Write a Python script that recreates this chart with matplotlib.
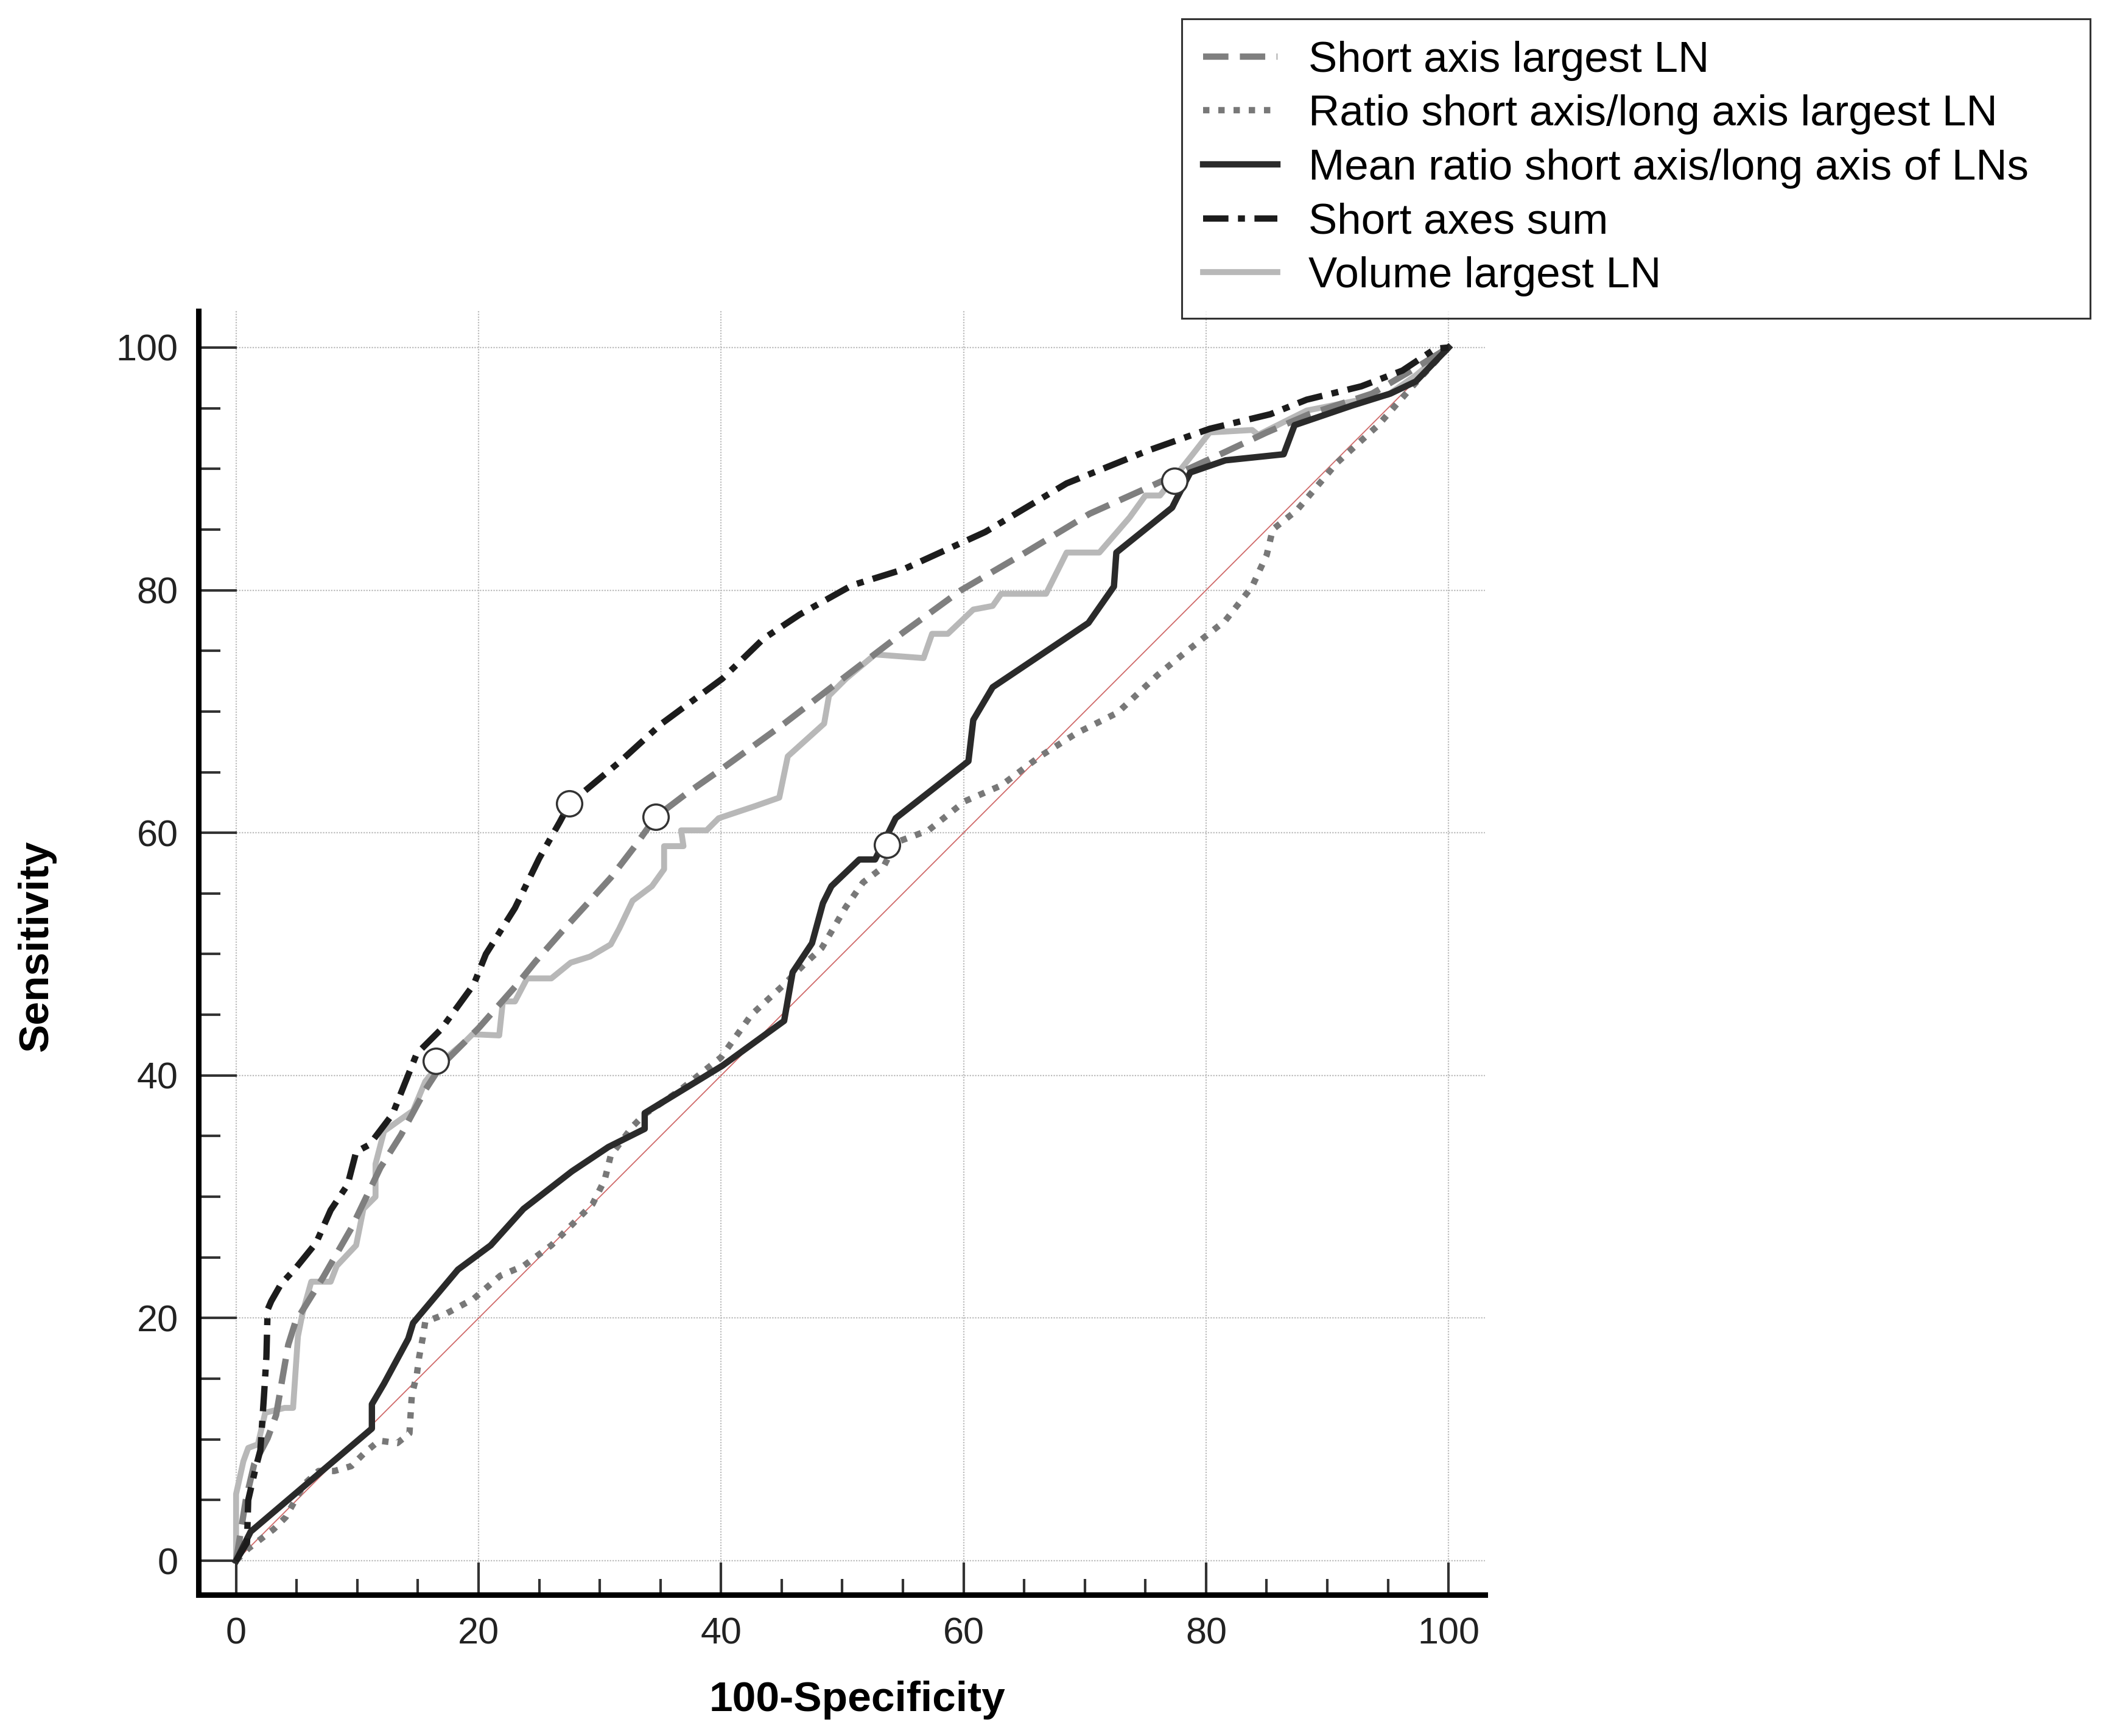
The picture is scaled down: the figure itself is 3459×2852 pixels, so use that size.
import matplotlib
matplotlib.use('Agg')
import matplotlib.pyplot as plt
from matplotlib.ticker import MultipleLocator
import numpy as np

plt.rcParams['font.family'] = ['Liberation Sans', 'DejaVu Sans']

# ROC curves (x = 100-Specificity, y = Sensitivity)
short_axis_x = [0, 0.8, 1.5, 2.6, 3.3, 3.9, 4.3, 4.9, 7.2, 9.5, 11.9, 13.6, 15.6, 16.9, 20.0, 23.0,
                24.7, 26.9, 29.0, 30.9, 32.9, 34.6, 37.1, 40.1, 45.2, 50.8, 55.0, 59.8, 65.1, 70.4,
                75.3, 81.6, 85.0, 88.5, 93.7, 97.1, 100]
short_axis_y = [0, 5, 8, 10.1, 12.0, 15.5, 17.8, 19.7, 23.4, 27.4, 32.4, 35.1, 38.8, 40.8, 43.9, 47.3,
                49.4, 51.9, 54.2, 56.3, 58.9, 61.3, 63.2, 65.3, 69.0, 73.3, 76.5, 80.0, 83.1, 86.3,
                88.5, 91.4, 93.0, 94.5, 96.2, 98.2, 100]

ratio_x = [0, 1.0, 3.1, 4.1, 5.6, 6.8, 8.1, 9.5, 10.6, 11.8, 13.3, 14.3, 14.4, 14.5, 14.9, 15.1, 15.4,
           15.6, 17.2, 19.6, 21.8, 23.7, 26.0, 27.7, 29.4, 30.4, 30.9, 32.7, 33.7, 36.5, 40.0, 42.5,
           45.2, 46.9, 48.3, 50.3, 51.7, 53.4, 54.4, 57.1, 60.1, 63.1, 66.3, 69.3, 72.7, 76.0, 78.2,
           81.6, 83.8, 85.0, 85.5, 87.5, 90.8, 94.2, 97.2, 100]
ratio_y = [0, 1.0, 2.6, 3.6, 6.3, 7.4, 7.4, 7.8, 8.9, 9.9, 9.7, 10.5, 12.2, 13.7, 15.3, 16.8, 18.4,
           19.7, 20.3, 21.6, 23.5, 24.3, 26.0, 27.7, 29.4, 31.4, 33.4, 35.8, 36.8, 38.7, 41.5, 45.0,
           47.5, 49.2, 50.5, 53.9, 55.9, 57.2, 59.2, 60.2, 62.6, 63.9, 66.3, 68.2, 69.9, 73.0, 74.8,
           77.5, 80.3, 82.9, 85.0, 86.6, 90.5, 93.6, 97.0, 100]

mean_ratio_x = [0, 1.2, 11.2, 11.2, 12.2, 14.2, 14.6, 18.3, 21.0, 23.7, 27.7, 30.7, 33.7, 33.7, 40.1,
                45.2, 45.9, 47.5, 48.4, 49.1, 51.4, 52.7, 54.4, 60.4, 60.8, 62.4, 70.3, 72.4, 72.6,
                77.2, 77.6, 78.7, 81.6, 86.4, 87.3, 92.0, 95.2, 97.3, 100]
mean_ratio_y = [0, 2.4, 10.9, 12.9, 14.6, 18.3, 19.6, 24.0, 26.0, 29.0, 32.1, 34.1, 35.6, 36.9, 40.8,
                44.5, 48.5, 50.9, 54.2, 55.6, 57.8, 57.8, 61.2, 65.9, 69.3, 72.0, 77.3, 80.3, 83.1,
                86.8, 87.6, 89.7, 90.7, 91.2, 93.6, 95.2, 96.2, 97.2, 100]

axes_sum_x = [0, 0.9, 1.0, 1.6, 2.0, 2.3, 2.5, 2.6, 2.9, 3.7, 4.9, 6.6, 7.8, 9.2, 9.9, 11.0, 12.9,
              14.9, 16.9, 19.6, 20.6, 23.0, 25.0, 26.7, 27.5, 31.7, 35.1, 40.1, 43.5, 46.5, 50.8,
              55.0, 61.8, 68.5, 75.2, 80.3, 85.3, 88.3, 92.8, 96.2, 98.9, 100]
axes_sum_y = [0, 1.5, 5.0, 7.6, 9.1, 13.6, 16.8, 20.7, 21.4, 22.8, 24.1, 26.2, 28.9, 31.0, 33.7,
              34.3, 36.8, 41.8, 43.8, 47.5, 50.0, 53.8, 57.9, 60.9, 62.4, 65.9, 69.0, 72.7, 76.0,
              78.0, 80.4, 81.7, 84.8, 88.8, 91.5, 93.3, 94.5, 95.7, 96.8, 98.1, 99.9, 100]

volume_x = [0, 0, 0.6, 1.0, 1.8, 2.4, 4.0, 4.7, 5.1, 5.5, 6.2, 7.8, 8.3, 9.9, 10.5, 11.5, 11.5, 12.2,
            13.6, 14.6, 15.6, 16.9, 18.9, 19.5, 21.7, 22.0, 23.0, 24.0, 26.0, 27.6, 29.2, 30.9, 31.6,
            32.7, 34.3, 35.3, 35.3, 36.9, 36.7, 38.8, 39.8, 42.8, 44.8, 45.5, 48.5, 48.9, 50.3, 52.7,
            56.7, 57.4, 58.7, 60.8, 62.4, 63.1, 66.8, 68.5, 71.2, 73.7, 75.0, 76.2, 78.9, 80.3, 83.8,
            84.3, 86.1, 88.3, 92.8, 95.0, 97.3, 100]
volume_y = [0, 5.5, 8.2, 9.3, 9.6, 12.2, 12.6, 12.6, 18.5, 20.5, 23.0, 23.0, 24.3, 26.0, 29.0, 30.0,
            32.7, 35.4, 36.4, 37.1, 39.5, 41.1, 42.8, 43.4, 43.3, 46.1, 46.1, 48.0, 48.0, 49.3, 49.8,
            50.8, 52.1, 54.4, 55.6, 57.0, 58.9, 58.9, 60.2, 60.2, 61.2, 62.2, 62.9, 66.3, 69.0, 71.3,
            72.7, 74.7, 74.4, 76.4, 76.4, 78.4, 78.7, 79.7, 79.7, 83.1, 83.1, 86.0, 87.8, 87.8, 91.2,
            93.0, 93.2, 92.8, 93.7, 94.8, 95.7, 96.1, 97.7, 100]

# optimal cut-off points (open circles)
cut_x = [34.6, 53.7, 77.4, 27.5, 16.5]
cut_y = [61.3, 59.0, 89.0, 62.4, 41.2]

labels = ["Short axis largest LN", "Ratio short axis/long axis largest LN",
          "Mean ratio short axis/long axis of LNs", "Short axes sum", "Volume largest LN"]

fig = plt.figure(figsize=(34.59, 28.52), dpi=100)
ax = fig.add_axes([0.0942, 0.0813, 0.6109, 0.7395])

ax.plot([0, 100], [0, 100], color='#d06a6a', lw=1.3, zorder=2)

l1, = ax.plot(short_axis_x, short_axis_y, color='#7f7f7f', lw=7.5, dashes=(4.0, 1.8), zorder=4)
l2, = ax.plot(ratio_x, ratio_y, color='#787878', lw=7.5, dashes=(1.0, 1.4), zorder=3)
l3, = ax.plot(mean_ratio_x, mean_ratio_y, color='#2a2a2a', lw=7.5, zorder=5)
l4, = ax.plot(axes_sum_x, axes_sum_y, color='#1c1c1c', lw=7.5, dashes=(4.0, 1.5, 1.1, 1.5), zorder=6)
l5, = ax.plot(volume_x, volume_y, color='#b8b8b8', lw=7, zorder=3)

ax.plot(cut_x, cut_y, ls='none', marker='o', ms=30, mfc='white', mec='#333333', mew=2.5, zorder=7)

ax.set_xlim(-3.11, 103.0)
ax.set_ylim(-2.81, 103.0)
ax.xaxis.set_minor_locator(MultipleLocator(5))
ax.yaxis.set_minor_locator(MultipleLocator(5))
ax.set_xticks(np.arange(0, 101, 20))
ax.set_yticks(np.arange(0, 101, 20))

ax.grid(True, which='major', color='#bdbdbd', lw=1.6, ls=(0, (1, 1)))
ax.set_axisbelow(True)

for s in ['top', 'right']:
    ax.spines[s].set_visible(False)
for s in ['left', 'bottom']:
    ax.spines[s].set_linewidth(6.5)
    ax.spines[s].set_color('black')

ax.tick_params(axis='x', which='major', direction='in', length=38, width=3, color='#333333',
               labelsize=44, pad=26)
ax.tick_params(axis='x', which='minor', direction='in', length=19, width=3, color='#333333')
ax.tick_params(axis='y', which='major', direction='in', length=45, width=3, color='#333333',
               labelsize=44, pad=24)
ax.tick_params(axis='y', which='minor', direction='in', length=26, width=3, color='#333333')
for t in ax.get_xticklabels() + ax.get_yticklabels():
    t.set_color('#222222')

ax.set_xlabel("100-Specificity", fontsize=50, fontweight='bold', va='center')
ax.xaxis.set_label_coords(0.512, -0.082)
ax.set_ylabel("Sensitivity", fontsize=50, fontweight='bold', va='center')
ax.yaxis.set_label_coords(-0.126, 0.506)

leg = fig.legend([l1, l2, l3, l4, l5], labels, loc='upper left',
                 bbox_to_anchor=(0.5611, 0.7655, 0.4314, 0.2236), mode='expand',
                 fontsize=51, frameon=True, fancybox=False, edgecolor='black',
                 handlelength=1.72, handletextpad=0.72, labelspacing=0.32, borderpad=0.5,
                 borderaxespad=0)
leg.get_frame().set_linewidth(2.2)

fig.savefig('out.png', dpi=100)
